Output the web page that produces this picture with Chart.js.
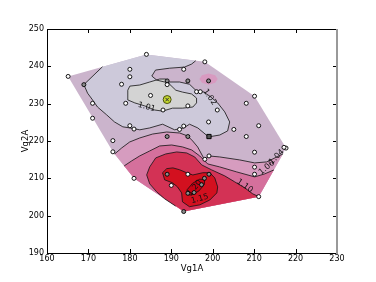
<!DOCTYPE html>
<html>
<head>
<meta charset="utf-8">
<script src="https://cdn.jsdelivr.net/npm/chart.js@4.4.0/dist/chart.umd.min.js"></script>
<style>
  html, body { margin: 0; padding: 0; background: #fff; }
</style>
</head>
<body>
<canvas id="myChart" width="376" height="282"></canvas>
<script>
// sample points (Vg1A, Vg2A)
var whitePoints = [
    [184, 243.2], [180, 239.2], [180, 237.2], [165.1, 237.3], [178, 235.2], [193, 239.2],
    [198.1, 241.2], [196.1, 233.2], [197, 233.2], [210.1, 232], [208.1, 230.1], [185, 232.2],
    [189, 235.1], [179, 230.1], [171, 230.1], [188, 228.3], [194, 229.4], [201.1, 228.3],
    [171, 226.1], [180, 224.1], [181, 223.2], [193, 224], [192, 223.1], [199, 225.1],
    [205.1, 223.1], [211.1, 224.1], [208.1, 221.2], [175.9, 220.1], [175.9, 217.1],
    [210.1, 217], [217.7, 218.1], [217.2, 218.3], [199.1, 216], [198.1, 215.1], [210.1, 213],
    [210.1, 211.1], [194, 211.1], [190, 208.1], [181, 210], [211.1, 205.1]
];
var grayPoints = [
    [168.9, 235.1], [189, 236.1], [194, 236.1], [199, 236.1], [194, 221.2], [189, 221.2],
    [189, 211.1], [199.1, 211.1], [198, 210], [197.3, 208.3], [194, 206], [195.5, 206.2],
    [193, 201.1]
];
var markedPoint = [[189, 231.1]];
var squarePoint = [[199.1, 221.2]];

var xTicks = [160, 170, 180, 190, 200, 210, 220, 230];
var yTicks = [190, 200, 210, 220, 230, 240, 250];

// contour outlines (data units)
var hull = [
    [165.1, 237.3], [184, 243.2], [198.1, 241.2], [210.1, 232], [217.7, 218.1],
    [211.1, 205.1], [193, 201.1], [181, 210], [175.9, 217.1]
];
var c101 = [
    [180.0, 234.7], [182.4, 235.0], [184.8, 235.8], [187.2, 236.6], [188.7, 236.6], [189.6, 235.2],
    [191.1, 233.6], [192.7, 233.1], [194.9, 232.6], [196.1, 231.5], [196.1, 230.2], [195.2, 229.1],
    [192.7, 228.8], [190.3, 228.8], [187.9, 228.0], [186.0, 228.3], [183.6, 229.4], [181.2, 230.2],
    [179.5, 231.0], [179.5, 233.6]
];
var c102 = [
    [173.4, 239.9], [168.9, 235.1], [169.8, 232.8], [171.0, 231.0], [172.2, 229.1], [174.4, 227.0],
    [176.3, 225.1], [178.3, 223.8], [180.0, 223.5], [182.4, 223.0], [184.8, 223.5], [187.9, 224.5],
    [190.8, 223.0], [193.0, 223.5], [194.4, 224.5], [196.4, 223.5], [199.0, 221.1], [201.7, 221.6],
    [203.6, 222.7], [204.1, 225.1], [202.9, 227.8], [201.2, 230.2], [199.3, 232.0], [197.8, 233.1],
    [195.9, 233.6], [194.4, 235.2], [192.0, 235.8], [188.4, 235.8], [186.5, 236.3], [185.3, 237.4],
    [186.2, 239.0], [189.6, 239.5], [193.2, 239.8], [194.9, 240.6], [195.9, 241.5]
];
var c102Close = [[184, 243.2]];
var spot = [
    [201.2, 236.6], [200.6, 237.6], [199, 238.1], [197.4, 237.6], [196.8, 236.6],
    [197.4, 235.6], [199, 235.1], [200.6, 235.6]
];
var c104 = [
    [176.34, 216.53], [178.03, 218.14], [179.96, 219.74], [182.38, 220.81], [185.51, 221.87],
    [188.89, 222.41], [192.03, 222.14], [193.96, 221.34], [195.17, 220.0], [196.37, 218.4],
    [198.06, 214.93], [199.03, 216.0], [201.68, 215.73], [206.51, 214.93], [210.13, 214.13],
    [213.03, 214.4], [216.96, 216.53]
];
var c106 = [
    [178.63, 213.33], [180.44, 214.67], [182.38, 216.0], [184.79, 217.33], [187.2, 218.67],
    [190.1, 218.93], [192.75, 218.4], [194.93, 217.6], [196.86, 216.0], [198.79, 213.86],
    [201.68, 213.06], [205.79, 211.72], [210.13, 210.39], [212.55, 211.19], [214.77, 212.26]
];
var bottomClose = [[211.1, 205.1], [193, 201.1], [181, 210]];
var c110 = [
    [191.06, 202.56], [188.41, 204.51], [186.48, 206.38], [184.79, 208.52], [184.06, 210.92],
    [184.79, 213.06], [186.24, 215.47], [188.65, 216.53], [191.31, 217.07], [193.72, 216.8],
    [195.65, 215.73], [197.34, 213.6], [199.75, 212.26], [202.89, 210.66], [205.3, 209.06],
    [207.72, 207.45], [209.65, 205.85], [211.1, 205.1]
];
var c110Close = [[193, 201.1]];
var c115 = [
    [187.9, 211.5], [188.4, 209.6], [190.3, 208.8], [191.5, 207.7], [192.5, 206.1], [192.7, 203.7],
    [194.4, 202.4], [196.9, 202.9], [199.3, 204.2], [201.0, 206.1], [201.2, 207.7], [200.5, 210.1],
    [199.3, 211.5], [197.6, 211.5], [195.2, 210.9], [193.7, 211.5], [192.0, 212.3], [190.4, 212.8],
    [188.9, 212.6]
];
var c120 = [
    [198.06, 209.64], [197.97, 208.33], [196.67, 206.62], [194.9, 205.5], [193.72, 205.64],
    [193.82, 206.95], [195.12, 208.66], [196.88, 209.78]
];
var labelText = ['1.01', '1.02', '1.04', '1.06', '1.10', '1.20', '1.15'];
var labelAt = [
    [184.07, 229.09], [199.27, 231.76], [215.44, 215.73], [213.03, 212.87],
    [207.72, 207.99], [195.65, 207.45], [196.86, 204.51]
];

var fontFamily = "'DejaVu Sans', sans-serif";

var bands = [
    { edge: hull, color: '#cbb4cc', stroke: false },
    { edge: c102, close: c102Close, color: '#cdc9da', stroke: true },
    { edge: c101, color: '#d3d3d3', stroke: true },
    { edge: spot, color: '#d89ac0', stroke: false },
    { edge: c104, close: bottomClose, color: '#d69cbf', stroke: true },
    { edge: c106, close: bottomClose, color: '#d5709c', stroke: true },
    { edge: c110, close: c110Close, color: '#d33255', stroke: true },
    { edge: c115, color: '#d3101f', stroke: true },
    { edge: c120, color: '#c90012', stroke: true }
];
var labelAngle = [15, 55, -45, -40, 35, -50, -15];

function toXY(list) {
    return list.map(function(p) { return { x: p[0], y: p[1] }; });
}

var contourPlugin = {
    id: 'contours',
    beforeDatasetsDraw: function(chart) {
        var ctx = chart.ctx, xs = chart.scales.x, ys = chart.scales.y, a = chart.chartArea;
        function trace(pts, close) {
            ctx.beginPath();
            pts.forEach(function(p, i) {
                var px = xs.getPixelForValue(p[0]), py = ys.getPixelForValue(p[1]);
                if (i === 0) ctx.moveTo(px, py); else ctx.lineTo(px, py);
            });
            if (close) ctx.closePath();
        }
        ctx.save();
        ctx.beginPath();
        ctx.rect(a.left, a.top, a.right - a.left, a.bottom - a.top);
        ctx.clip();
        bands.forEach(function(b) {
            trace(b.edge.concat(b.close || []), true);
            ctx.fillStyle = b.color;
            ctx.fill();
        });
        ctx.strokeStyle = '#111';
        ctx.lineWidth = 0.8;
        ctx.lineJoin = 'round';
        bands.forEach(function(b) {
            if (!b.stroke) return;
            trace(b.edge, !b.close);
            ctx.stroke();
        });
        ctx.fillStyle = '#111';
        ctx.font = '8px ' + fontFamily;
        ctx.textAlign = 'center';
        ctx.textBaseline = 'middle';
        labelText.forEach(function(t, i) {
            ctx.save();
            ctx.translate(xs.getPixelForValue(labelAt[i][0]), ys.getPixelForValue(labelAt[i][1]));
            ctx.rotate(labelAngle[i] * Math.PI / 180);
            ctx.fillText(t, 0, 0);
            ctx.restore();
        });
        ctx.restore();
    },
    afterDraw: function(chart) {
        var ctx = chart.ctx, xs = chart.scales.x, ys = chart.scales.y, a = chart.chartArea;
        ctx.save();
        ctx.strokeStyle = '#000';
        ctx.lineWidth = 1;
        xTicks.forEach(function(v) {
            var px = Math.round(xs.getPixelForValue(v)) + 0.5;
            ctx.beginPath();
            ctx.moveTo(px, a.bottom); ctx.lineTo(px, a.bottom - 4);
            ctx.moveTo(px, a.top); ctx.lineTo(px, a.top + 4);
            ctx.stroke();
        });
        yTicks.forEach(function(v) {
            var py = Math.round(ys.getPixelForValue(v)) + 0.5;
            ctx.beginPath();
            ctx.moveTo(a.left, py); ctx.lineTo(a.left + 4, py);
            ctx.moveTo(a.right, py); ctx.lineTo(a.right - 4, py);
            ctx.stroke();
        });
        ctx.beginPath();
        ctx.moveTo(a.right, a.top + 0.5);
        ctx.lineTo(a.left + 0.5, a.top + 0.5);
        ctx.lineTo(a.left + 0.5, a.bottom + 0.5);
        ctx.lineTo(a.right, a.bottom + 0.5);
        ctx.stroke();
        ctx.strokeStyle = '#999';
        ctx.lineWidth = 2;
        ctx.beginPath();
        ctx.moveTo(a.right, a.top);
        ctx.lineTo(a.right, a.bottom + 1);
        ctx.stroke();
        ctx.restore();
    }
};

function drawChart()
{
    var ctx = document.getElementById('myChart').getContext('2d');
    var chart = new Chart(ctx, {
        type: 'scatter',
        data: {
            datasets: [
                { data: toXY(whitePoints), pointRadius: 2, backgroundColor: '#fff', borderColor: '#000', borderWidth: 0.9 },
                { data: toXY(grayPoints), pointRadius: 2, backgroundColor: '#8c8c8c', borderColor: '#000', borderWidth: 0.9 },
                { data: toXY(squarePoint), pointStyle: 'rect', pointRadius: 3, backgroundColor: '#555', borderColor: '#000', borderWidth: 1 },
                { data: toXY(markedPoint), pointStyle: 'crossRot', pointRadius: 2.5, borderColor: '#333', borderWidth: 1 },
                { data: toXY(markedPoint), pointRadius: 4, backgroundColor: '#c4d82c', borderColor: '#4a5010', borderWidth: 1 }
            ]
        },
        plugins: [contourPlugin],
        options: {
            responsive: false,
            animation: false,
            devicePixelRatio: 1,
            layout: { padding: { top: 29, right: 39, bottom: 0, left: 0 } },
            plugins: { legend: { display: false }, tooltip: { enabled: false } },
            scales: {
                x: {
                    type: 'linear', min: 160, max: 230,
                    afterBuildTicks: function(s) { s.ticks = xTicks.map(function(v) { return { value: v }; }); },
                    afterFit: function(s) { s.height = 29; },
                    grid: { display: false, drawTicks: false },
                    border: { display: false },
                    ticks: { color: '#000', font: { family: fontFamily, size: 8 }, padding: 1, maxRotation: 0, autoSkip: false },
                    title: { display: true, text: 'Vg1A', color: '#000', font: { family: fontFamily, size: 8.5 }, padding: { top: 0, bottom: 8 } }
                },
                y: {
                    type: 'linear', min: 190, max: 250,
                    afterBuildTicks: function(s) { s.ticks = yTicks.map(function(v) { return { value: v }; }); },
                    afterFit: function(s) { s.width = 47; },
                    grid: { display: false, drawTicks: false },
                    border: { display: false },
                    ticks: { color: '#000', font: { family: fontFamily, size: 8 }, padding: 3, autoSkip: false },
                    title: { display: true, text: 'Vg2A', color: '#000', font: { family: fontFamily, size: 8.5 }, padding: { top: 21, bottom: 0 } }
                }
            }
        }
    });
}
drawChart();
</script>
</body>
</html>
